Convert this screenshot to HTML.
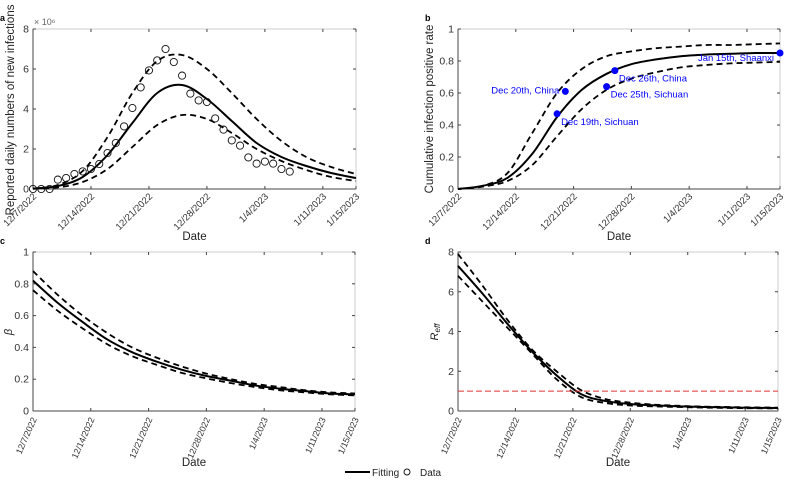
<!DOCTYPE html>
<html><head><meta charset="utf-8"><style>
body{margin:0;background:#fff;width:790px;height:479px;overflow:hidden;font-family:"Liberation Sans",Arial,sans-serif}
svg text{font-family:"Liberation Sans",Arial,sans-serif}
</style></head><body>
<svg id="s" width="790" height="479" xmlns="http://www.w3.org/2000/svg"></svg>
<script>
const dateLabels=["12/7/2022","12/14/2022","12/21/2022","12/28/2022","1/4/2023","1/11/2023","1/15/2023"];
const dateTicks=[0,7,14,21,28,35,39];
const fitDays=[0,3,6,9,12,15,18,21,24,27,30,33,36,39];
const aMean=[0.02,0.15,0.6,1.7,3.3,4.8,5.2,4.5,3.4,2.3,1.6,1.15,0.8,0.55];
const aUpper=[0.02,0.2,0.9,2.6,4.8,6.4,6.7,6.0,4.8,3.5,2.4,1.6,1.1,0.75];
const aLower=[0.01,0.08,0.35,1.0,2.1,3.2,3.7,3.5,2.8,2.0,1.4,0.95,0.6,0.4];
const aData=[0,0,0,0.47,0.55,0.75,0.88,1.0,1.25,1.8,2.3,3.13,4.05,5.08,5.93,6.43,7.0,6.35,5.67,4.77,4.43,4.35,3.53,2.97,2.43,2.17,1.58,1.27,1.37,1.27,1.0,0.87];
const bMean=[0,0.02,0.07,0.22,0.45,0.62,0.72,0.78,0.81,0.83,0.84,0.845,0.85,0.85];
const bUpper=[0,0.02,0.1,0.35,0.6,0.75,0.83,0.86,0.88,0.89,0.9,0.9,0.905,0.91];
const bLower=[0,0.015,0.05,0.15,0.33,0.5,0.62,0.69,0.73,0.76,0.775,0.785,0.79,0.795];
const bPtDays=[12,13,18,19,39];
const bPtVals=[0.47,0.61,0.64,0.74,0.85];
const bPtLabels=["Dec 19th, Sichuan","Dec 20th, China","Dec 25th, Sichuan","Dec 26th, China","Jan 15th, Shaanxi"];
const cMean=[0.82,0.68,0.56,0.45,0.37,0.31,0.26,0.22,0.19,0.16,0.14,0.125,0.11,0.105];
const cUpper=[0.88,0.73,0.6,0.49,0.4,0.335,0.28,0.235,0.2,0.17,0.15,0.13,0.117,0.11];
const cLower=[0.76,0.63,0.52,0.42,0.345,0.29,0.24,0.205,0.175,0.15,0.13,0.117,0.105,0.098];
const dMean=[7.3,5.9,4.4,3.0,1.8,0.85,0.5,0.35,0.28,0.23,0.2,0.18,0.16,0.15];
const dUpper=[7.9,6.3,4.6,3.1,2.0,1.05,0.6,0.42,0.32,0.26,0.22,0.2,0.18,0.17];
const dLower=[6.8,5.5,4.2,2.9,1.6,0.7,0.4,0.28,0.23,0.2,0.17,0.15,0.14,0.13];
const aYTicks=[0,2,4,6,8],bYTicks=[0,0.2,0.4,0.6,0.8,1],cYTicks=[0,0.2,0.4,0.6,0.8,1],dYTicks=[0,2,4,6,8];

const S=document.getElementById('s');
function el(t,a,p){const e=document.createElementNS('http://www.w3.org/2000/svg',t);for(const k in a)e.setAttribute(k,a[k]);(p||S).appendChild(e);return e;}
function txt(x,y,s,a,p){const e=el('text',Object.assign({x:x,y:y,'font-size':10,fill:'#333'},a||{}),p);e.textContent=s;return e;}
function panel(P){
 const g=el('g',{});
 
 
 const X=d=>P.x0+(P.x1-P.x0)*d/39, Y=v=>P.y1-(P.y1-P.y0)*(v-P.ymin)/(P.ymax-P.ymin);
 const box=el('rect',{x:P.x0,y:P.y0,width:P.x1-P.x0,height:P.y1-P.y0,fill:'none',stroke:'#ccc','stroke-width':1},g);
 
 el('line',{x1:P.x0,y1:P.y1,x2:P.x1,y2:P.y1,stroke:'#444'},g);
 el('line',{x1:P.x0,y1:P.y0,x2:P.x0,y2:P.y1,stroke:'#444'},g);
 dateTicks.forEach((d,i)=>{const x=X(d);el('line',{x1:x,y1:P.y1,x2:x,y2:P.y1-3,stroke:'#444'},g);el('line',{x1:x,y1:P.y0,x2:x,y2:P.y0+3,stroke:'#444'},g);
  const t=txt(x+4,P.y1+8,dateLabels[i],{'text-anchor':'end',transform:`rotate(${P.rot} ${x+4} ${P.y1+8})`,'font-size':P.fs},g);
  });
 P.yt.forEach(v=>{const y=Y(v);el('line',{x1:P.x0,y1:y,x2:P.x0+3,y2:y,stroke:'#444'},g);el('line',{x1:P.x1,y1:y,x2:P.x1-3,y2:y,stroke:'#444'},g);
  const t=txt(P.x0-4,y+3.5,String(v),{'text-anchor':'end','font-size':10.5},g);});
 const xt=txt((P.x0+P.x1)/2,P.y1+P.dy,'Date',{'text-anchor':'middle','font-size':11.5,fill:'#222'},g);
 
 const lt=txt(P.x0-33,P.y0-8,P.letter,{'font-weight':'bold','font-size':9,fill:'#000'},g);
 
 function path(vals,dash,name){
  const pts=fitDays.map((d,i)=>[X(d),Y(vals[i])]);
  let s='M'+pts[0][0]+','+pts[0][1];
  for(let i=0;i<pts.length-1;i++){const p0=pts[Math.max(0,i-1)],p1=pts[i],p2=pts[i+1],p3=pts[Math.min(pts.length-1,i+2)];
   s+=` C${p1[0]+(p2[0]-p0[0])/6},${p1[1]+(p2[1]-p0[1])/6} ${p2[0]-(p3[0]-p1[0])/6},${p2[1]-(p3[1]-p1[1])/6} ${p2[0]},${p2[1]}`;}
  const e=el('path',{d:s,fill:'none',stroke:'#000','stroke-width':dash?1.8:2,'stroke-dasharray':dash?'6,4':'none'},g);
  }
 path(P.lo,true,'lower-bound-line');path(P.up,true,'upper-bound-line');path(P.m,false,'fitting-line');
 return {g,X,Y};
}
const A=panel({name:'panel-a',letter:'a',x0:33,x1:356,y0:29,y1:189,ymin:0,ymax:8,yt:aYTicks,m:aMean,up:aUpper,lo:aLower,rot:-45,dy:51,fs:9.5});
aData.forEach((v,i)=>{const c=el('circle',{cx:A.X(i),cy:A.Y(v),r:3.6,fill:'none',stroke:'#111','stroke-width':0.9},A.g);});
let yt=txt(14,110,'Reported daily numbers of new infections',{'text-anchor':'middle',transform:'rotate(-90 14 110)','font-size':11.5,fill:'#222'});

let ex=txt(34,25,'× 10⁶',{'font-size':9,fill:'#666'});

const B=panel({name:'panel-b',letter:'b',x0:458,x1:780,y0:29,y1:189,ymin:0,ymax:1,yt:bYTicks,m:bMean,up:bUpper,lo:bLower,rot:-45,dy:51,fs:9.5});
bPtDays.forEach((d,i)=>{const x=B.X(d),y=B.Y(bPtVals[i]);const c=el('circle',{cx:x,cy:y,r:3.5,fill:'#0000ff'},B.g);
 let a={'font-size':9.5,fill:'#0000ff'},tx=x+4,ty=y+11;
 if(i==1||i==4){a['text-anchor']='end';tx=x-6;ty=y+2+(i==4?6:0);}
 const t=txt(tx,ty,bPtLabels[i],a,B.g);});
yt=txt(433,109,'Cumulative infection positive rate',{'text-anchor':'middle',transform:'rotate(-90 433 109)','font-size':11.5,fill:'#222'});


const C=panel({name:'panel-c',letter:'c',x0:33,x1:355,y0:252,y1:411,ymin:0,ymax:1,yt:cYTicks,m:cMean,up:cUpper,lo:cLower,rot:-66,dy:55,fs:8.8});
yt=txt(12,332,'β',{'text-anchor':'middle','font-style':'italic','font-size':11,fill:'#222',transform:'rotate(-90 12 332)'});


const D=panel({name:'panel-d',letter:'d',x0:458,x1:778,y0:252,y1:411,ymin:0,ymax:8,yt:dYTicks,m:dMean,up:dUpper,lo:dLower,rot:-66,dy:55,fs:8.8});
const rl=el('line',{x1:D.X(0),x2:D.X(39),y1:D.Y(1),y2:D.Y(1),stroke:'#e03030','stroke-width':1,'stroke-dasharray':'6,3'},D.g);

yt=el('text',{x:438,y:332,'text-anchor':'middle','font-style':'italic','font-size':11,fill:'#222',transform:'rotate(-90 438 332)'});
yt.innerHTML='R<tspan font-size="8" dy="2">eff</tspan>';


const L=el('g',{});
el('line',{x1:345,y1:472,x2:370,y2:472,stroke:'#000','stroke-width':2},L);
txt(372,476,'Fitting',{'font-size':10,fill:'#222'},L);
el('circle',{cx:407,cy:472,r:3,fill:'none',stroke:'#111','stroke-width':0.9},L);
txt(420,476,'Data',{'font-size':10,fill:'#222'},L);
</script>
</body></html>
